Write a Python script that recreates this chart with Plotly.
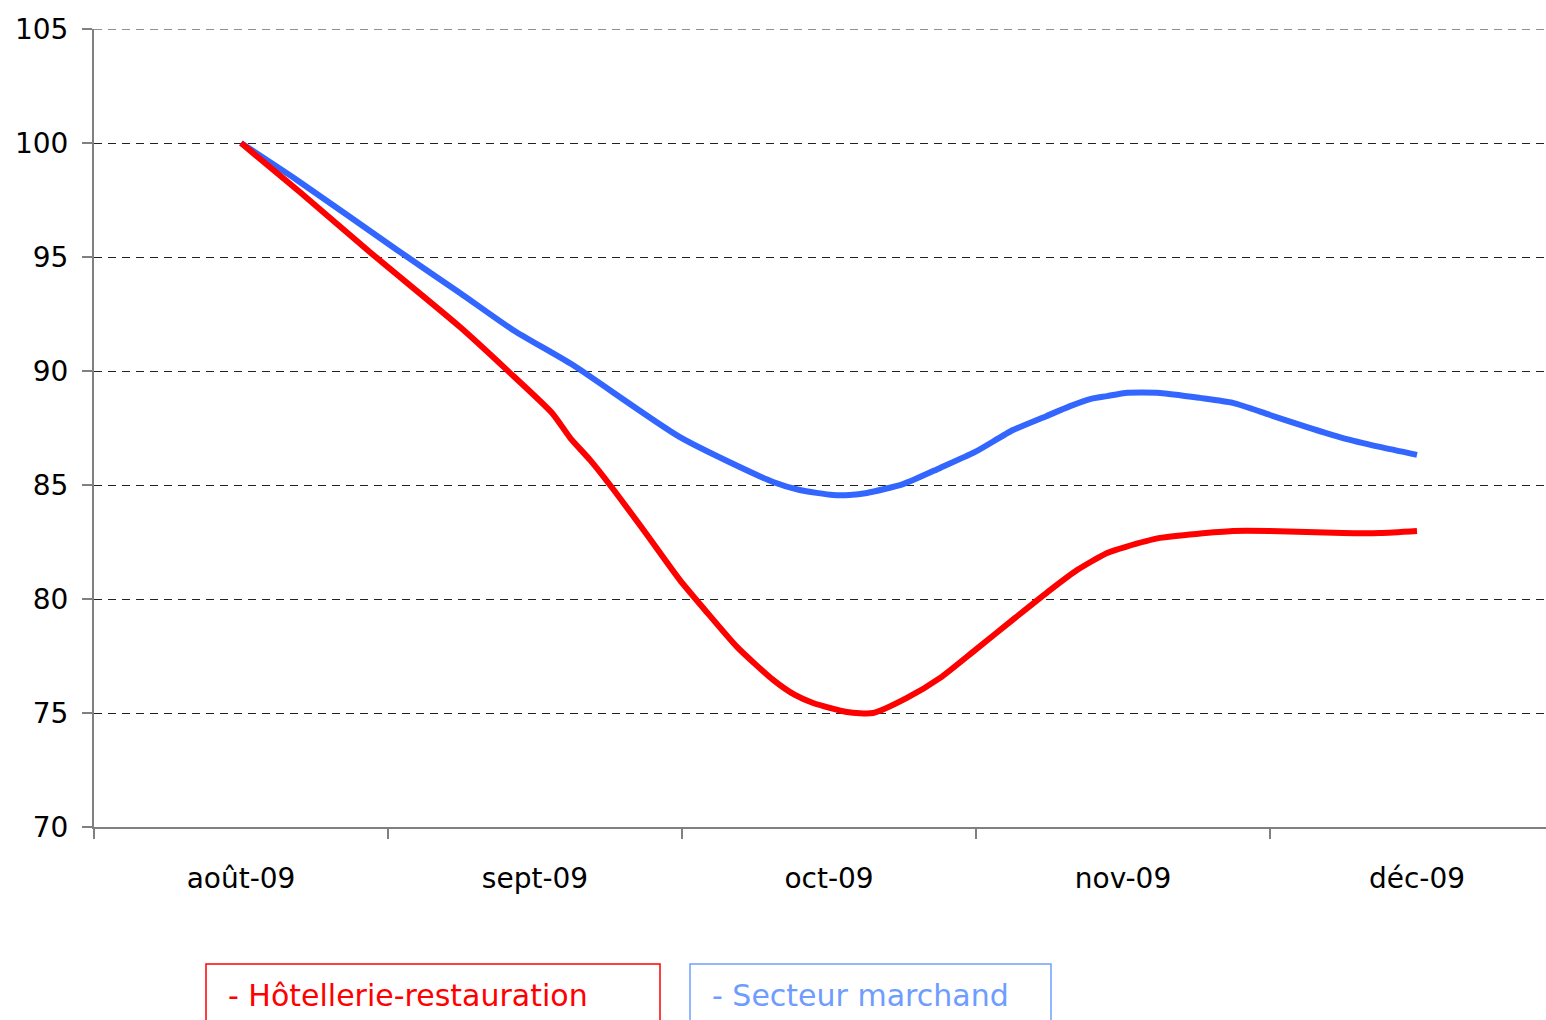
import plotly.graph_objects as go

# Category labels (months) and positions of the category centres
mois = ["août-09", "sept-09", "oct-09", "nov-09", "déc-09"]
mois_pos = [0, 1, 2, 3, 4]

# Series (position in months from août-09, index value)
hotel_x = [0, 0.20, 0.44, 0.745, 0.905, 1.058, 1.12, 1.187, 1.255, 1.374, 1.493, 1.578,
           1.687, 1.81, 1.884, 1.946, 2.061, 2.15, 2.265, 2.378, 2.497, 2.633, 2.752,
           2.844, 2.946, 3.007, 3.126, 3.374, 3.5, 3.748, 3.874, 4.0]
hotel_y = [100, 97.85, 95.2, 91.93, 90.04, 88.16, 87.06, 86.1, 85.0, 82.94, 80.83, 79.52,
           77.9, 76.45, 75.79, 75.44, 75.04, 75.0, 75.66, 76.54, 77.76, 79.17, 80.39,
           81.27, 82.02, 82.28, 82.68, 82.98, 82.98, 82.89, 82.89, 82.98]

march_x = [0, 0.19, 0.531, 0.745, 0.925, 1.129, 1.493, 1.81, 1.90, 2.014, 2.07, 2.129,
           2.252, 2.378, 2.497, 2.626, 2.741, 2.82, 2.888, 2.946, 3.007, 3.126, 3.262,
           3.374, 3.5, 3.626, 3.748, 3.874, 4.0]
march_y = [100, 98.38, 95.31, 93.42, 91.8, 90.26, 87.1, 85.13, 84.78, 84.56, 84.56, 84.65,
           85.04, 85.75, 86.45, 87.41, 88.03, 88.46, 88.77, 88.9, 89.04, 89.04, 88.82,
           88.6, 88.07, 87.54, 87.06, 86.67, 86.32]

cat_bounds = [-0.5, 0.5, 1.5, 2.5, 3.5]
y_ticks = [70, 75, 80, 85, 90, 95, 100, 105]

FONT = "DejaVu Sans"
W, H = 1546, 1020
ML, MT, MB, MR = 94, 29, 193, 0
PW = W - ML - MR
PH = H - MT - MB
XR = [-0.5, -0.5 + PW / 294.0]
YR = [70, 105]

fig = go.Figure()
fig.add_trace(go.Scatter(x=march_x, y=march_y, mode="lines",
                         line=dict(color="#3366FF", width=6, shape="spline", smoothing=0.6),
                         name="Secteur marchand", showlegend=False))
fig.add_trace(go.Scatter(x=hotel_x, y=hotel_y, mode="lines",
                         line=dict(color="#FF0000", width=6, shape="spline", smoothing=0.6),
                         name="Hôtellerie-restauration", showlegend=False))
# invisible trace to activate the boundary-tick axis
fig.add_trace(go.Scatter(x=[XR[0]], y=[None], xaxis="x2", showlegend=False, hoverinfo="skip"))

def px_x(p):
    return (p - ML) / PW

def px_y(p):
    return (H - MB - p) / PH

shapes = [
    # top gridline (at the edge of the range)
    dict(type="line", xref="paper", yref="y", x0=0, x1=1, y0=YR[1], y1=YR[1],
         line=dict(color="#222222", width=1, dash="8px,6px"), layer="below"),
    dict(type="rect", xref="paper", yref="paper", x0=px_x(206), x1=px_x(660),
         y0=px_y(1035), y1=px_y(964), line=dict(color="#FF0000", width=1.5)),
    dict(type="rect", xref="paper", yref="paper", x0=px_x(690), x1=px_x(1051),
         y0=px_y(1035), y1=px_y(964), line=dict(color="#6F9FFF", width=1.5)),
]
annotations = [
    dict(text="- Hôtellerie-restauration", xref="paper", yref="paper", x=px_x(226), y=px_y(995),
         xanchor="left", yanchor="middle", showarrow=False,
         font=dict(family=FONT, size=30, color="#FF0000")),
    dict(text="- Secteur marchand", xref="paper", yref="paper", x=px_x(710), y=px_y(995),
         xanchor="left", yanchor="middle", showarrow=False,
         font=dict(family=FONT, size=30, color="#6F9CFF")),
]

fig.update_layout(
    width=W, height=H,
    margin=dict(l=ML, r=MR, t=MT, b=MB, pad=0),
    paper_bgcolor="white", plot_bgcolor="white",
    font=dict(family=FONT, size=28, color="#000000"),
    shapes=shapes, annotations=annotations,
    xaxis=dict(range=XR, tickvals=mois_pos, ticktext=mois, ticks="", showgrid=False,
               showline=True, linecolor="#808080", linewidth=2, zeroline=False,
               ticklabelstandoff=25, tickfont=dict(family=FONT, size=28, color="#000")),
    xaxis2=dict(range=XR, overlaying="x", side="bottom", tickvals=cat_bounds,
                showticklabels=False, ticks="outside", ticklen=11, tickwidth=1.5,
                tickcolor="#808080", showgrid=False, showline=False, zeroline=False),
    yaxis=dict(range=YR, tickvals=y_ticks, ticks="outside", ticklen=10, tickwidth=1.5,
               tickcolor="#808080", showline=True, linecolor="#808080", linewidth=2,
               showgrid=True, gridcolor="#222222", gridwidth=1, griddash="8px,6px",
               zeroline=False, ticklabelstandoff=8,
               tickfont=dict(family=FONT, size=28, color="#000")),
)

fig.write_html("out.html", config={"displayModeBar": False},
               post_script="document.body.style.margin='0';document.body.style.padding='0';")
